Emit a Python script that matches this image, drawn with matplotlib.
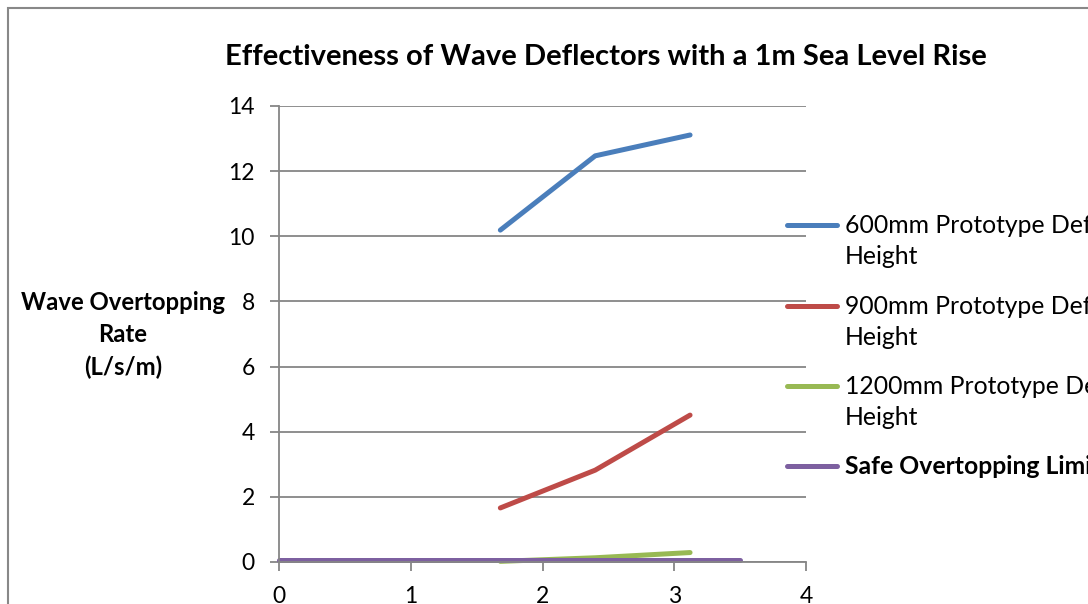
import matplotlib
matplotlib.use("Agg")
import matplotlib.pyplot as plt
from matplotlib.lines import Line2D
from matplotlib.patches import Rectangle

plt.rcParams['font.family'] = ['Lato', 'DejaVu Sans']

# wave overtopping rate (L/s/m) against wave height for each deflector
x_proto = [1.68, 2.40, 3.12]
rate_600 = [10.19, 12.47, 13.11]
rate_900 = [1.66, 2.82, 4.51]
rate_1200 = [0.02, 0.13, 0.29]
x_limit = [0.0, 3.5]
rate_limit = [0.05, 0.05]

labels = ["600mm Prototype Deflector\nHeight",
          "900mm Prototype Deflector\nHeight",
          "1200mm Prototype Deflector\nHeight",
          "Safe Overtopping Limit"]
colors = ["#4a7ebb", "#be4b48", "#98b954", "#7d60a0"]

W, H = 1088, 604
fig = plt.figure(figsize=(W / 100, H / 100), dpi=100)
ax = fig.add_axes([279 / W, 1 - 562 / H, (806 - 279) / W, (562 - 106) / H])

series = [(x_proto, rate_600), (x_proto, rate_900), (x_proto, rate_1200), (x_limit, rate_limit)]
for (xs, ys), c in zip(series, colors):
    ax.plot(xs, ys, color=c, lw=3.6, solid_capstyle='round', solid_joinstyle='round', clip_on=False)

ax.set_xlim(0, 4)
ax.set_ylim(0, 14)
ax.set_xticks(range(0, 5))
ax.set_yticks(range(0, 15, 2))
ax.grid(axis='y', color='#868686', lw=1.3)
ax.set_axisbelow(True)
for s in ['top', 'right']:
    ax.spines[s].set_visible(False)
for s in ['left', 'bottom']:
    ax.spines[s].set_color('#868686')
    ax.spines[s].set_linewidth(1.3)
ax.tick_params(colors='#868686', labelcolor='black', labelsize=16.5, length=6.5, width=1.3, pad=11)

fig.text(606 / W, 1 - 65 / H, "Effectiveness of Wave Deflectors with a 1m Sea Level Rise",
         ha='center', va='baseline', fontsize=21, fontweight='bold')
for i, line in enumerate(["Wave Overtopping", "Rate", "(L/s/m)"]):
    fig.text(123 / W, 1 - (303 + 32 * i) / H, line, ha='center', va='center',
             fontsize=17.2, fontweight='bold')

# legend drawn by hand so the key sits on the first text line
leg_y = [225, 306, 386, 466]
for lab, c, y in zip(labels, colors, leg_y):
    fig.add_artist(Line2D([787 / W, 837 / W], [1 - y / H] * 2, color=c, lw=3.6,
                          solid_capstyle='round', transform=fig.transFigure))
    bold = lab.startswith("Safe")
    for i, line in enumerate(lab.split("\n")):
        fig.text(845 / W, 1 - (y + 8 + 31 * i) / H, line, ha='left', va='baseline', fontsize=17.8,
                 fontweight='bold' if bold else 'normal')

fig.add_artist(Rectangle((8 / W, -0.1), 1.2, 1 - 8 / H + 0.1, transform=fig.transFigure,
                         fill=False, edgecolor='#888888', lw=1.5))

fig.savefig("out.png", dpi=100)
